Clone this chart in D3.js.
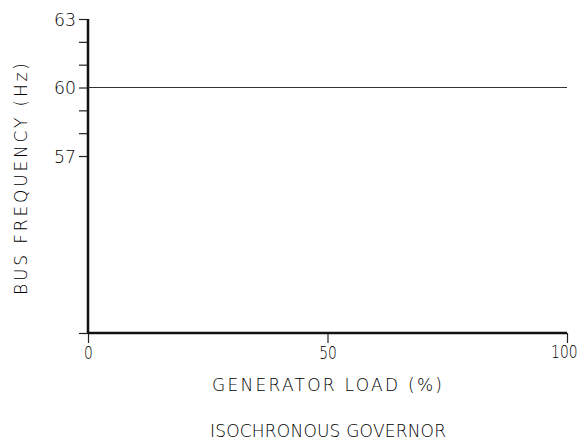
<!DOCTYPE html>
<html><head><meta charset="utf-8">
<script src="https://cdn.jsdelivr.net/npm/d3@7"></script>
<style>body{margin:0;background:#fff}svg{display:block}text{font-family:"DejaVu Sans",sans-serif;font-weight:200;fill:#000}</style>
</head><body><svg id="c" width="583" height="441"></svg>
<script>
const yMajorTicks = [63, 60, 57];
const yMinorTicks = [62, 61, 59, 58];
const yDomain = [49.25, 63];
const xTicks = [0, 50, 100];
const setpointFreq = [60, 60];
const setpointLoad = [0, 100];
const yLabel = "BUS FREQUENCY (Hz)";
const xLabel = "GENERATOR LOAD (%)";
const title = "ISOCHRONOUS GOVERNOR";

const svg = d3.select("#c");
const x = d3.scaleLinear().domain([0, 100]).range([88, 567]);
const y = d3.scaleLinear().domain(yDomain).range([333, 19]);

const yAx = d3.axisLeft(y).tickValues([...yMajorTicks, ...yMinorTicks, yDomain[0]])
  .tickSize(9).tickPadding(3)
  .tickFormat(d => yMajorTicks.includes(d) ? d : "");
const gy = svg.append("g").attr("transform", `translate(${x(0)},0)`).call(yAx);
gy.select(".domain").remove();
gy.selectAll(".tick line").attr("stroke", "#222").attr("stroke-width", 1.2);
gy.selectAll(".tick text").attr("font-size", 18).attr("dy", "0.36em")
  .attr("textLength", function(){ return this.textContent.length * 11; }).attr("lengthAdjust","spacingAndGlyphs");

const xAx = d3.axisBottom(x).tickValues(xTicks).tickSize(10).tickPadding(3);
const gx = svg.append("g").attr("transform", `translate(0,${y(yDomain[0])})`).call(xAx);
gx.select(".domain").remove();
gx.selectAll(".tick line").attr("stroke", "#222").attr("stroke-width", 1.2);
gx.selectAll(".tick text").attr("font-size", 18)
  .attr("textLength", function(){ return this.textContent.length * 8.8; }).attr("lengthAdjust","spacingAndGlyphs");
gx.selectAll(".tick text").filter(d => d === xTicks[xTicks.length - 1])
  .attr("text-anchor", "end").attr("x", 10).attr("font-size", 17);

svg.append("line").attr("x1", x(0)).attr("x2", x(0)).attr("y1", y(63)).attr("y2", y(yDomain[0]))
  .attr("stroke", "#111").attr("stroke-width", 2.5);
svg.append("line").attr("x1", x(0)).attr("x2", x(100)).attr("y1", y(yDomain[0])).attr("y2", y(yDomain[0]))
  .attr("stroke", "#111").attr("stroke-width", 2.5);

const line = d3.line().x((d,i) => x(setpointLoad[i])).y(d => y(d));
svg.append("path").attr("d", line(setpointFreq)).attr("fill","none").attr("stroke","#333").attr("stroke-width",1.2);

svg.append("text").attr("transform", "translate(27,179) rotate(-90)").attr("text-anchor","middle")
  .attr("font-size", 17).attr("textLength", 232).attr("lengthAdjust","spacing").text(yLabel);
svg.append("text").attr("x", 327).attr("y", 391).attr("text-anchor","middle")
  .attr("font-size", 17).attr("textLength", 230).attr("lengthAdjust","spacing").text(xLabel);
svg.append("text").attr("x", 328).attr("y", 437).attr("text-anchor","middle")
  .attr("font-size", 17).attr("textLength", 236).attr("lengthAdjust","spacing").text(title);
</script></body></html>
